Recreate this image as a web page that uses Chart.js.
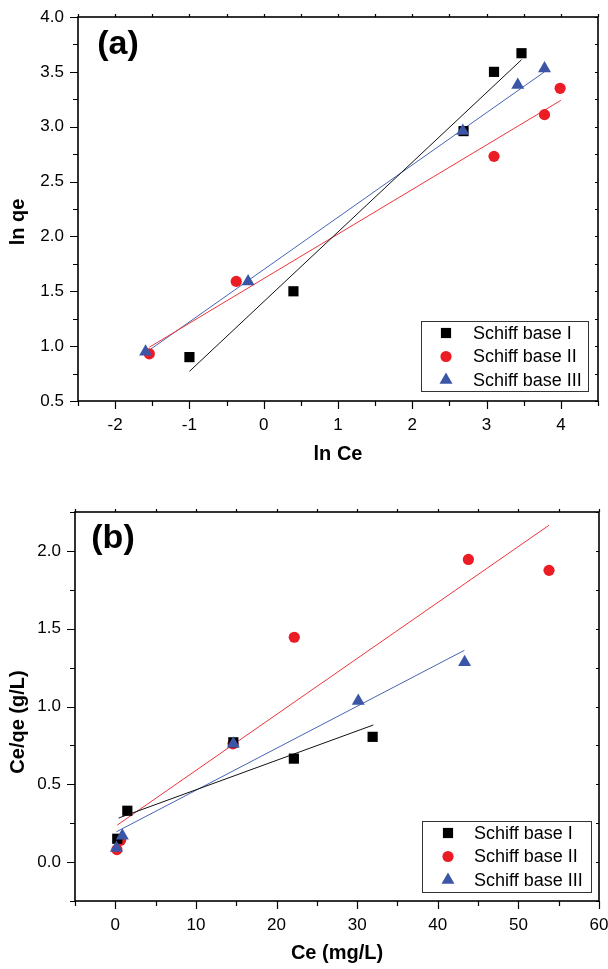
<!DOCTYPE html>
<html>
<head>
<meta charset="utf-8">
<script src="https://cdn.jsdelivr.net/npm/chart.js@4.4.1/dist/chart.umd.min.js"></script>
<style>
  html, body { margin: 0; padding: 0; background: #fff; }
  #wrapA { position: absolute; left: 0; top: 0; width: 608px; height: 480px; }
  #wrapB { position: absolute; left: 0; top: 480px; width: 608px; height: 489px; }
</style>
</head>
<body>
<div id="wrapA"><canvas id="chartA"></canvas></div>
<div id="wrapB"><canvas id="chartB"></canvas></div>
<script>
// ---------- Data: panel (a) Freundlich, ln qe vs ln Ce ----------
const seriesNames = ['Schiff base I', 'Schiff base II', 'Schiff base III'];

const aIx = [-1.00, 0.40, 2.69, 3.10, 3.47];
const aIy = [0.90, 1.50, 2.96, 3.50, 3.67];
const aIIx = [-1.54, -0.37, 3.10, 3.78, 3.99];
const aIIy = [0.93, 1.59, 2.73, 3.11, 3.35];
const aIIIx = [-1.59, -0.21, 2.68, 3.42, 3.78];
const aIIIy = [0.95, 1.59, 2.96, 3.38, 3.53];
// fitted line end points
const aFitIx = [-1.00, 3.47];
const aFitIy = [0.77, 3.61];
const aFitIIx = [-1.54, 4.00];
const aFitIIy = [0.99, 3.24];
const aFitIIIx = [-1.59, 3.78];
const aFitIIIy = [0.94, 3.50];

// ---------- Data: panel (b) Langmuir, Ce/qe vs Ce ----------
const bIx = [0.24, 1.49, 14.64, 22.15, 31.92];
const bIy = [0.15, 0.33, 0.77, 0.665, 0.805];
const bIIx = [0.20, 0.65, 14.60, 22.20, 43.80, 53.80];
const bIIy = [0.08, 0.14, 0.76, 1.445, 1.945, 1.875];
const bIIIx = [0.14, 0.87, 14.64, 30.14, 43.33];
const bIIIy = [0.09, 0.17, 0.76, 1.035, 1.285];
const bFitIx = [0.40, 32.00];
const bFitIy = [0.283, 0.881];
const bFitIIx = [0.24, 53.80];
const bFitIIy = [0.238, 2.165];
const bFitIIIx = [0.14, 43.30];
const bFitIIIy = [0.195, 1.361];

// ---------- Axis settings (values) ----------
const aXRange = [-2.5, 4.5], aXMinor = 0.5, aXMajor = 1;
const aYRange = [0.5, 4.0], aYMinor = 0.25, aYMajor = 0.5;
const bXRange = [-5, 60], bXMinor = 5, bXMajor = 10;
const bYRange = [-0.25, 2.25], bYMinor = 0.25, bYMajor = 0.5;

const COL_I = '#000000';
const COL_II = '#ec1c24';
const COL_III = '#3b56a6';
const LINE_II = '#ee3438';
const LINE_III = '#4564b4';

const FONT = '"Liberation Sans", Arial, Helvetica, sans-serif';

function pts(xs, ys) { return xs.map((x, i) => ({ x: x, y: ys[i] })); }
function isMult(v, m) { const r = v / m; return Math.abs(r - Math.round(r)) < 1e-6; }

function makeDatasets(s) {
  return [
    { label: seriesNames[0], data: pts(s.Ix, s.Iy), pointStyle: 'rect', pointRadius: 7.2,
      backgroundColor: COL_I, borderColor: COL_I, borderWidth: 0, showLine: false, order: 1 },
    { label: seriesNames[1], data: pts(s.IIx, s.IIy), pointStyle: 'circle', pointRadius: 5.6,
      backgroundColor: COL_II, borderColor: COL_II, borderWidth: 0, showLine: false, order: 2 },
    { label: seriesNames[2], data: pts(s.IIIx, s.IIIy), pointStyle: 'triangle', pointRadius: 7.5,
      backgroundColor: COL_III, borderColor: COL_III, borderWidth: 0, showLine: false, order: 0 },
    { label: 'fitI', data: pts(s.fIx, s.fIy), showLine: true, pointRadius: 0, borderColor: '#111',
      borderWidth: 1, fill: false, order: 3 },
    { label: 'fitII', data: pts(s.fIIx, s.fIIy), showLine: true, pointRadius: 0, borderColor: LINE_II,
      borderWidth: 1, fill: false, order: 3 },
    { label: 'fitIII', data: pts(s.fIIIx, s.fIIIy), showLine: true, pointRadius: 0, borderColor: LINE_III,
      borderWidth: 1, fill: false, order: 3 }
  ];
}

function drawMarker(ctx, style, r, x, y) {
  ctx.beginPath();
  if (style === 'rect') {
    const s = r * Math.SQRT1_2;
    ctx.rect(x - s, y - s, 2 * s, 2 * s);
  } else if (style === 'circle') {
    ctx.arc(x, y, r, 0, Math.PI * 2);
  } else {
    ctx.moveTo(x, y - r);
    ctx.lineTo(x + r * Math.sin(Math.PI * 2 / 3), y - r * Math.cos(Math.PI * 2 / 3));
    ctx.lineTo(x - r * Math.sin(Math.PI * 2 / 3), y - r * Math.cos(Math.PI * 2 / 3));
    ctx.closePath();
  }
  ctx.fill();
}

// decoration plugin: frame, ticks, titles, panel label, legend
function decoPlugin(cfg) {
  return {
    id: 'deco',
    afterDraw(chart) {
      const ctx = chart.ctx;
      const a = chart.chartArea;
      const xs = chart.scales.x, ys = chart.scales.y;
      ctx.save();
      ctx.strokeStyle = '#000';
      // ticks
      ctx.lineWidth = 1.2;
      ctx.beginPath();
      xs.ticks.forEach(t => {
        const p = Math.round(xs.getPixelForValue(t.value)) + 0.5;
        const major = isMult(t.value, cfg.xMajor);
        const len = major ? 8 : 5;
        ctx.moveTo(p, a.bottom); ctx.lineTo(p, a.bottom + len);
        ctx.moveTo(p, a.top); ctx.lineTo(p, a.top - 3);
      });
      ys.ticks.forEach(t => {
        const p = Math.round(ys.getPixelForValue(t.value)) + 0.5;
        const major = isMult(t.value, cfg.yMajor);
        const len = major ? 8 : 5;
        ctx.moveTo(a.left, p); ctx.lineTo(a.left - len, p);
        ctx.moveTo(a.right, p); ctx.lineTo(a.right - 3, p);
      });
      ctx.stroke();
      // frame
      ctx.lineWidth = 1.6;
      ctx.strokeRect(a.left, a.top, a.right - a.left, a.bottom - a.top);

      // axis titles
      ctx.fillStyle = '#000';
      ctx.font = 'bold 20px ' + FONT;
      ctx.textAlign = 'center';
      ctx.textBaseline = 'middle';
      ctx.fillText(cfg.xTitle, (a.left + a.right) / 2, cfg.xTitleY);
      ctx.save();
      ctx.translate(cfg.yTitleX, cfg.yTitleY);
      ctx.rotate(-Math.PI / 2);
      ctx.fillText(cfg.yTitle, 0, 0);
      ctx.restore();

      // panel label
      ctx.font = 'bold 34px ' + FONT;
      ctx.textAlign = 'center';
      ctx.fillText(cfg.panel, cfg.panelX, cfg.panelY);

      // legend
      const L = cfg.legend;
      ctx.fillStyle = '#fff';
      ctx.fillRect(L.x, L.y, L.w, L.h);
      ctx.lineWidth = 1;
      ctx.strokeStyle = '#333';
      ctx.strokeRect(L.x + 0.5, L.y + 0.5, L.w, L.h);
      ctx.font = '18px ' + FONT;
      ctx.textAlign = 'left';
      ctx.textBaseline = 'middle';
      for (let i = 0; i < 3; i++) {
        const ds = chart.data.datasets[i];
        const cy = L.y + L.row0 + i * L.rowH;
        ctx.fillStyle = ds.backgroundColor;
        drawMarker(ctx, ds.pointStyle, ds.pointRadius, L.x + L.mx, cy);
        ctx.fillStyle = '#000';
        ctx.fillText(ds.label, L.x + L.tx, cy + 1);
      }
      ctx.restore();
    }
  };
}

function makeChart(id, s, opt) {
  return new Chart(document.getElementById(id), {
    type: 'scatter',
    data: { datasets: makeDatasets(s) },
    options: {
      responsive: true,
      maintainAspectRatio: false,
      animation: false,
      layout: { padding: { top: opt.padTop, right: opt.padRight, left: 0, bottom: 0 } },
      plugins: { legend: { display: false }, tooltip: { enabled: false } },
      scales: {
        x: {
          type: 'linear', min: opt.xRange[0], max: opt.xRange[1],
          grid: { display: false, drawTicks: false }, border: { display: false },
          ticks: {
            stepSize: opt.xMinor, padding: 14, color: '#000', autoSkip: false, maxRotation: 0,
            font: { family: FONT, size: 17 },
            callback: v => isMult(v, opt.xMajor) ? String(Math.round(v)) : ''
          },
          afterFit: sc => { sc.height = opt.xAxisH; sc.paddingLeft = 0; sc.paddingRight = 0; }
        },
        y: {
          type: 'linear', min: opt.yRange[0], max: opt.yRange[1],
          grid: { display: false, drawTicks: false }, border: { display: false },
          ticks: {
            stepSize: opt.yMinor, padding: 14, color: '#000', autoSkip: false,
            font: { family: FONT, size: 17 },
            callback: v => isMult(v, opt.yMajor) ? v.toFixed(1) : ''
          },
          afterFit: sc => { sc.width = opt.yAxisW; sc.paddingTop = 0; sc.paddingBottom = 0; }
        }
      }
    },
    plugins: [decoPlugin(opt.deco)]
  });
}

makeChart('chartA', {
  Ix: aIx, Iy: aIy, IIx: aIIx, IIy: aIIy, IIIx: aIIIx, IIIy: aIIIy,
  fIx: aFitIx, fIy: aFitIy, fIIx: aFitIIx, fIIy: aFitIIy, fIIIx: aFitIIIx, fIIIy: aFitIIIy
}, {
  xRange: aXRange, xMinor: aXMinor, xMajor: aXMajor,
  yRange: aYRange, yMinor: aYMinor, yMajor: aYMajor,
  padTop: 17, padRight: 10, xAxisH: 79, yAxisW: 78,
  deco: {
    xMajor: aXMajor, yMajor: aYMajor,
    xTitle: 'ln Ce', xTitleY: 454, yTitle: 'ln qe', yTitleX: 18, yTitleY: 222,
    panel: '(a)', panelX: 118, panelY: 45,
    legend: { x: 421, y: 321, w: 167, h: 70, mx: 25, tx: 52, row0: 12, rowH: 23.5 }
  }
});

makeChart('chartB', {
  Ix: bIx, Iy: bIy, IIx: bIIx, IIy: bIIy, IIIx: bIIIx, IIIy: bIIIy,
  fIx: bFitIx, fIy: bFitIy, fIIx: bFitIIx, fIIy: bFitIIy, fIIIx: bFitIIIx, fIIIy: bFitIIIy
}, {
  xRange: bXRange, xMinor: bXMinor, xMajor: bXMajor,
  yRange: bYRange, yMinor: bYMinor, yMajor: bYMajor,
  padTop: 32, padRight: 9, xAxisH: 68, yAxisW: 75,
  deco: {
    xMajor: bXMajor, yMajor: bYMajor,
    xTitle: 'Ce (mg/L)', xTitleY: 473, yTitle: 'Ce/qe (g/L)', yTitleX: 18, yTitleY: 242,
    panel: '(b)', panelX: 113, panelY: 59,
    legend: { x: 422, y: 341, w: 169, h: 71, mx: 26, tx: 52, row0: 12, rowH: 23.5 }
  }
});
</script>
</body>
</html>
